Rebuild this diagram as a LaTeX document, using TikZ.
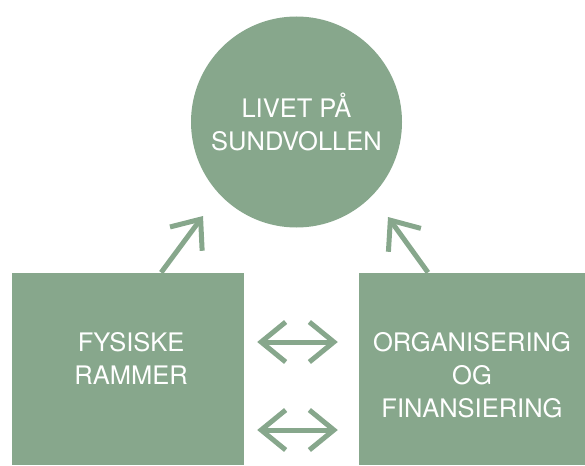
\documentclass[tikz,border=0pt]{standalone}
\usepackage{fontspec}
\setmainfont{TeX Gyre Heros}
\usetikzlibrary{arrows.meta,positioning}
\definecolor{salvie}{RGB}{135,167,140}

\begin{document}
\begin{tikzpicture}[x=1pt,y=-1pt,
  felt/.style={fill=salvie, draw=none, text=white, font=\fontsize{25.5}{33}\selectfont, align=center, inner sep=0pt},
  boks/.style={felt, rectangle, minimum height=192.3pt},
  pil/.style={salvie, line width=5pt, -{Straight Barb[length=24.5pt, width=40pt]}},
  dobbelpil/.style={salvie, line width=5pt, {Straight Barb[length=24.5pt, width=40pt]}-{Straight Barb[length=24.5pt, width=40pt]}}]
  \useasboundingbox (0,0) rectangle (585,465);
  % circle on top
  \node[felt, circle, minimum size=211pt] (livet) at (296.5,122) {LIVET PÅ\\SUNDVOLLEN};
  % the two boxes, running off the lower edge
  \node[boks, minimum width=231.7pt] (fysisk) at (128.15,368.85) {};
  \node[boks, minimum width=226pt] (organ) at (472,368.85) {};
  \node[felt, fill=none, anchor=north] (fysisktekst) at ([xshift=3pt, yshift=-59.3pt]fysisk.north) {FYSISKE\\RAMMER};
  \node[felt, fill=none, anchor=north] (organtekst) at ([yshift=-59.3pt]organ.north) {ORGANISERING\\OG\\FINANSIERING};
  % arrows up to the circle
  \coordinate (spissv) at (203,216);
  \coordinate (spissh) at (388,217);
  \draw[pil] ([xshift=33pt]fysisk.north) -- (spissv);
  \draw[pil] ([xshift=-44pt]organ.north) -- (spissh);
  % arrows between the boxes
  \draw[dobbelpil, shorten <=13pt, shorten >=21pt] ([yshift=26.85pt]fysisk.east) -- ([yshift=26.85pt]organ.west);
  \draw[dobbelpil, shorten <=13pt, shorten >=21pt] ([yshift=-61.15pt]fysisk.east) -- ([yshift=-61.15pt]organ.west);
\end{tikzpicture}
\end{document}
